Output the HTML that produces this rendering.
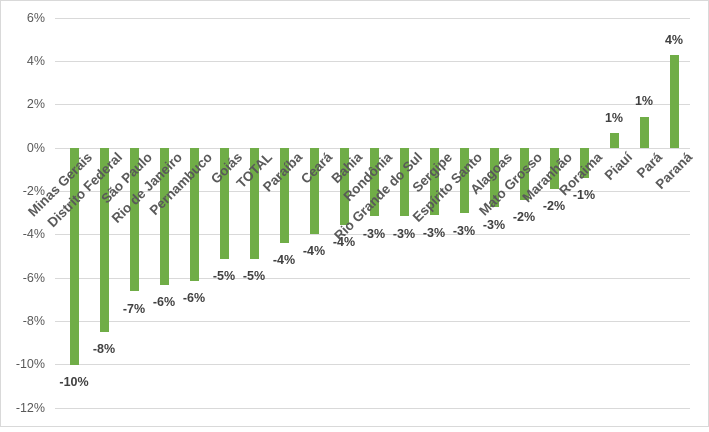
<!DOCTYPE html>
<html><head><meta charset="utf-8"><style>
body{margin:0;background:#fff}
svg text{font-family:"Liberation Sans",sans-serif}
</style></head><body>
<svg width="709" height="427" xmlns="http://www.w3.org/2000/svg">
<rect x="0.5" y="0.5" width="708" height="426" fill="#fff" stroke="#d9d9d9"/>
<g stroke="#d9d9d9" stroke-width="1">
<line x1="55" x2="690" y1="18.5" y2="18.5"/>
<line x1="55" x2="690" y1="61.5" y2="61.5"/>
<line x1="55" x2="690" y1="104.5" y2="104.5"/>
<line x1="55" x2="690" y1="148.5" y2="148.5"/>
<line x1="55" x2="690" y1="191.5" y2="191.5"/>
<line x1="55" x2="690" y1="234.5" y2="234.5"/>
<line x1="55" x2="690" y1="278.5" y2="278.5"/>
<line x1="55" x2="690" y1="321.5" y2="321.5"/>
<line x1="55" x2="690" y1="364.5" y2="364.5"/>
<line x1="55" x2="690" y1="408.5" y2="408.5"/>
</g>
<g font-size="12.5" fill="#595959" text-anchor="end">
<text x="45" y="22">6%</text><text x="45" y="65">4%</text><text x="45" y="108">2%</text>
<text x="45" y="152">0%</text><text x="45" y="195">-2%</text><text x="45" y="238">-4%</text>
<text x="45" y="282">-6%</text><text x="45" y="325">-8%</text><text x="45" y="368">-10%</text>
<text x="45" y="412">-12%</text>
</g>
<g fill="#70ad47">
<rect x="70" y="148" width="9" height="217"/>
<rect x="100" y="148" width="9" height="184"/>
<rect x="130" y="148" width="9" height="143"/>
<rect x="160" y="148" width="9" height="137"/>
<rect x="190" y="148" width="9" height="133"/>
<rect x="220" y="148" width="9" height="111"/>
<rect x="250" y="148" width="9" height="111"/>
<rect x="280" y="148" width="9" height="95"/>
<rect x="310" y="148" width="9" height="86"/>
<rect x="340" y="148" width="9" height="77"/>
<rect x="370" y="148" width="9" height="68"/>
<rect x="400" y="148" width="9" height="68"/>
<rect x="430" y="148" width="9" height="67"/>
<rect x="460" y="148" width="9" height="65"/>
<rect x="490" y="148" width="9" height="59"/>
<rect x="520" y="148" width="9" height="52"/>
<rect x="550" y="148" width="9" height="41"/>
<rect x="580" y="148" width="9" height="30"/>
<rect x="610" y="133" width="9" height="15"/>
<rect x="640" y="117" width="9" height="31"/>
<rect x="670" y="55" width="9" height="93"/>
</g>
<g font-size="12.5" font-weight="bold" fill="#404040" text-anchor="middle">
<text x="74" y="386">-10%</text><text x="104" y="353">-8%</text><text x="134" y="313">-7%</text>
<text x="164" y="306">-6%</text><text x="194" y="302">-6%</text><text x="224" y="280">-5%</text>
<text x="254" y="280">-5%</text><text x="284" y="264">-4%</text><text x="314" y="255">-4%</text>
<text x="344" y="246">-4%</text><text x="374" y="238">-3%</text><text x="404" y="238">-3%</text>
<text x="434" y="237">-3%</text><text x="464" y="235">-3%</text><text x="494" y="229">-3%</text>
<text x="524" y="221">-2%</text><text x="554" y="210">-2%</text><text x="584" y="199">-1%</text>
<text x="614" y="122">1%</text><text x="644" y="105">1%</text><text x="674" y="44">4%</text>
</g>
<g font-size="13.5" font-weight="bold" fill="#595959" text-anchor="end">
<text transform="translate(93,158) rotate(-45)">Minas Gerais</text>
<text transform="translate(123,158) rotate(-45)">Distrito Federal</text>
<text transform="translate(153,158) rotate(-45)">São Paulo</text>
<text transform="translate(183,158) rotate(-45)">Rio de Janeiro</text>
<text transform="translate(213,158) rotate(-45)">Pernambuco</text>
<text transform="translate(243,158) rotate(-45)">Goiás</text>
<text transform="translate(273,158) rotate(-45)">TOTAL</text>
<text transform="translate(303,158) rotate(-45)">Paraíba</text>
<text transform="translate(333,158) rotate(-45)">Ceará</text>
<text transform="translate(363,158) rotate(-45)">Bahia</text>
<text transform="translate(393,158) rotate(-45)">Rondônia</text>
<text transform="translate(423,158) rotate(-45)">Rio Grande do Sul</text>
<text transform="translate(453,158) rotate(-45)">Sergipe</text>
<text transform="translate(483,158) rotate(-45)">Espírito Santo</text>
<text transform="translate(513,158) rotate(-45)">Alagoas</text>
<text transform="translate(543,158) rotate(-45)">Mato Grosso</text>
<text transform="translate(573,158) rotate(-45)">Maranhão</text>
<text transform="translate(603,158) rotate(-45)">Roraima</text>
<text transform="translate(633,158) rotate(-45)">Piauí</text>
<text transform="translate(663,158) rotate(-45)">Pará</text>
<text transform="translate(693,158) rotate(-45)">Paraná</text>
</g>
</svg>
</body></html>
